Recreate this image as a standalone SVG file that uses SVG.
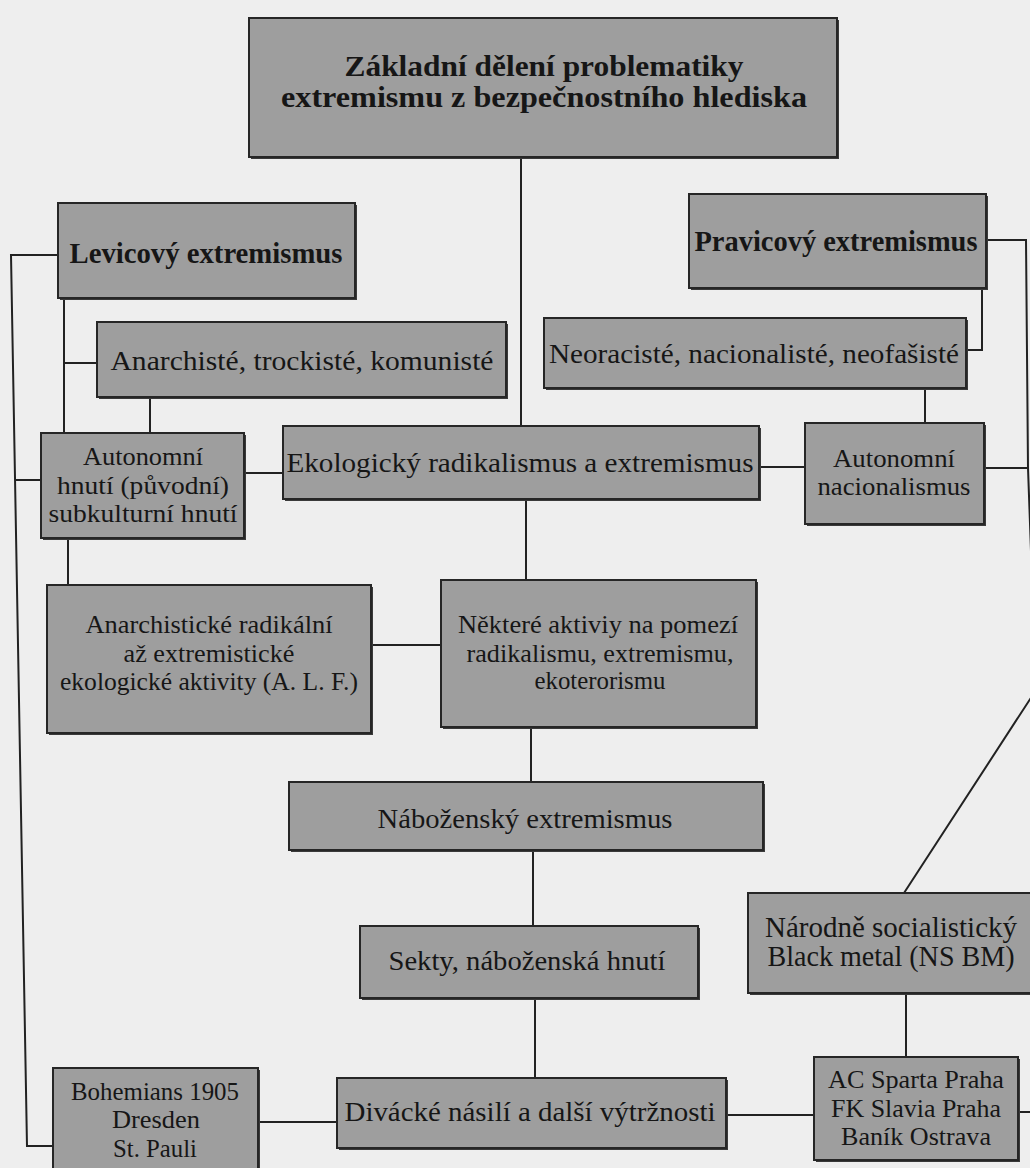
<svg xmlns="http://www.w3.org/2000/svg" width="1030" height="1168" viewBox="0 0 1030 1168">
<style>
.box{fill:#9e9e9e;stroke:#262626;stroke-width:2}
.sh{fill:#3a3a3a}
.t{font-family:"Liberation Serif","DejaVu Serif",serif;fill:#161616;text-anchor:middle}
.b{font-weight:bold}
.c{fill:none;stroke:#222;stroke-width:2}
</style>
<rect x="0" y="0" width="1030" height="1168" fill="#eeeeee"/>
<g id="connectors">
<path class="c" d="M521,157 V426"/>
<path class="c" d="M58,255 H11 L27,1146 H53"/>
<path class="c" d="M15,480 H41"/>
<path class="c" d="M64,298 V433"/>
<path class="c" d="M64,363 H97"/>
<path class="c" d="M150,397 V433"/>
<path class="c" d="M68,538 V585"/>
<path class="c" d="M244,473 H283"/>
<path class="c" d="M759,467 H805"/>
<path class="c" d="M984,468 H1027"/>
<path class="c" d="M986,240 H1026 L1028,468 L1036,690 L904,893"/>
<path class="c" d="M982,288 V350 H966"/>
<path class="c" d="M925,388 V423"/>
<path class="c" d="M526,499 V580"/>
<path class="c" d="M371,645 H441"/>
<path class="c" d="M531,727 V782"/>
<path class="c" d="M533,850 V926"/>
<path class="c" d="M535,998 V1078"/>
<path class="c" d="M258,1122 H337"/>
<path class="c" d="M726,1115 H814"/>
<path class="c" d="M1018,1112 H1030"/>
<path class="c" d="M906,993 V1057"/>
</g>
<g id="n_title">
<rect class="sh" x="251" y="20" width="588" height="139"/>
<rect class="box" x="249" y="18" width="588" height="139"/>
<text class="t b" x="544" y="76" font-size="30" textLength="399" lengthAdjust="spacingAndGlyphs">Základní dělení problematiky</text>
<text class="t b" x="544" y="107" font-size="30" textLength="526" lengthAdjust="spacingAndGlyphs">extremismu z bezpečnostního hlediska</text>
</g>
<g id="n_levicovy">
<rect class="sh" x="60" y="205" width="297" height="95"/>
<rect class="box" x="58" y="203" width="297" height="95"/>
<text class="t b" x="206" y="263" font-size="30" textLength="273" lengthAdjust="spacingAndGlyphs">Levicový extremismus</text>
</g>
<g id="n_pravicovy">
<rect class="sh" x="691" y="196" width="297" height="94"/>
<rect class="box" x="689" y="194" width="297" height="94"/>
<text class="t b" x="836" y="251" font-size="30" textLength="283" lengthAdjust="spacingAndGlyphs">Pravicový extremismus</text>
</g>
<g id="n_anarchiste">
<rect class="sh" x="99" y="324" width="409" height="75"/>
<rect class="box" x="97" y="322" width="409" height="75"/>
<text class="t" x="302" y="370" font-size="28" textLength="383" lengthAdjust="spacingAndGlyphs">Anarchisté, trockisté, komunisté</text>
</g>
<g id="n_neoraciste">
<rect class="sh" x="546" y="320" width="422" height="70"/>
<rect class="box" x="544" y="318" width="422" height="70"/>
<text class="t" x="754" y="363" font-size="28" textLength="410" lengthAdjust="spacingAndGlyphs">Neoracisté, nacionalisté, neofašisté</text>
</g>
<g id="n_autonomni_hnuti">
<rect class="sh" x="43" y="435" width="203" height="105"/>
<rect class="box" x="41" y="433" width="203" height="105"/>
<text class="t" x="143" y="465" font-size="25" textLength="120" lengthAdjust="spacingAndGlyphs">Autonomní</text>
<text class="t" x="143" y="494" font-size="25" textLength="172" lengthAdjust="spacingAndGlyphs">hnutí (původní)</text>
<text class="t" x="143" y="522" font-size="25" textLength="189" lengthAdjust="spacingAndGlyphs">subkulturní hnutí</text>
</g>
<g id="n_ekologicky">
<rect class="sh" x="285" y="428" width="476" height="73"/>
<rect class="box" x="283" y="426" width="476" height="73"/>
<text class="t" x="520" y="472" font-size="28" textLength="467" lengthAdjust="spacingAndGlyphs">Ekologický radikalismus a extremismus</text>
</g>
<g id="n_autonomni_nac">
<rect class="sh" x="807" y="425" width="179" height="101"/>
<rect class="box" x="805" y="423" width="179" height="101"/>
<text class="t" x="894" y="467" font-size="25" textLength="122" lengthAdjust="spacingAndGlyphs">Autonomní</text>
<text class="t" x="894" y="495" font-size="25" textLength="153" lengthAdjust="spacingAndGlyphs">nacionalismus</text>
</g>
<g id="n_anarchisticke">
<rect class="sh" x="49" y="587" width="324" height="148"/>
<rect class="box" x="47" y="585" width="324" height="148"/>
<text class="t" x="209" y="633" font-size="25" textLength="247" lengthAdjust="spacingAndGlyphs">Anarchistické radikální</text>
<text class="t" x="209" y="662" font-size="25" textLength="171" lengthAdjust="spacingAndGlyphs">až extremistické</text>
<text class="t" x="209" y="690" font-size="25" textLength="298" lengthAdjust="spacingAndGlyphs">ekologické aktivity (A. L. F.)</text>
</g>
<g id="n_nektere">
<rect class="sh" x="443" y="582" width="315" height="147"/>
<rect class="box" x="441" y="580" width="315" height="147"/>
<text class="t" x="598" y="633" font-size="26" textLength="280" lengthAdjust="spacingAndGlyphs">Některé aktiviy na pomezí</text>
<text class="t" x="600" y="662" font-size="26" textLength="267" lengthAdjust="spacingAndGlyphs">radikalismu, extremismu,</text>
<text class="t" x="600" y="689" font-size="26" textLength="131" lengthAdjust="spacingAndGlyphs">ekoterorismu</text>
</g>
<g id="n_nabozensky">
<rect class="sh" x="291" y="784" width="474" height="68"/>
<rect class="box" x="289" y="782" width="474" height="68"/>
<text class="t" x="525" y="828" font-size="28" textLength="295" lengthAdjust="spacingAndGlyphs">Náboženský extremismus</text>
</g>
<g id="n_sekty">
<rect class="sh" x="362" y="928" width="338" height="72"/>
<rect class="box" x="360" y="926" width="338" height="72"/>
<text class="t" x="527" y="970" font-size="28" textLength="277" lengthAdjust="spacingAndGlyphs">Sekty, náboženská hnutí</text>
</g>
<g id="n_divacke">
<rect class="sh" x="339" y="1080" width="389" height="70"/>
<rect class="box" x="337" y="1078" width="389" height="70"/>
<text class="t" x="530" y="1121" font-size="27" textLength="371" lengthAdjust="spacingAndGlyphs">Divácké násilí a další výtržnosti</text>
</g>
<g id="n_narodne">
<rect class="sh" x="750" y="895" width="290" height="100"/>
<rect class="box" x="748" y="893" width="290" height="100"/>
<text class="t" x="891" y="937" font-size="29" textLength="252" lengthAdjust="spacingAndGlyphs">Národně socialistický</text>
<text class="t" x="891" y="966" font-size="29" textLength="247" lengthAdjust="spacingAndGlyphs">Black metal (NS BM)</text>
</g>
<g id="n_ac">
<rect class="sh" x="816" y="1059" width="204" height="103"/>
<rect class="box" x="814" y="1057" width="204" height="103"/>
<text class="t" x="916" y="1088" font-size="26" textLength="176" lengthAdjust="spacingAndGlyphs">AC Sparta Praha</text>
<text class="t" x="916" y="1117" font-size="26" textLength="170" lengthAdjust="spacingAndGlyphs">FK Slavia Praha</text>
<text class="t" x="916" y="1145" font-size="26" textLength="150" lengthAdjust="spacingAndGlyphs">Baník Ostrava</text>
</g>
<g id="n_bohemians">
<rect class="sh" x="55" y="1070" width="205" height="102"/>
<rect class="box" x="53" y="1068" width="205" height="102"/>
<text class="t" x="155" y="1100" font-size="25" textLength="168" lengthAdjust="spacingAndGlyphs">Bohemians 1905</text>
<text class="t" x="156" y="1128" font-size="25" textLength="88" lengthAdjust="spacingAndGlyphs">Dresden</text>
<text class="t" x="155" y="1157" font-size="25" textLength="84" lengthAdjust="spacingAndGlyphs">St. Pauli</text>
</g>
</svg>
